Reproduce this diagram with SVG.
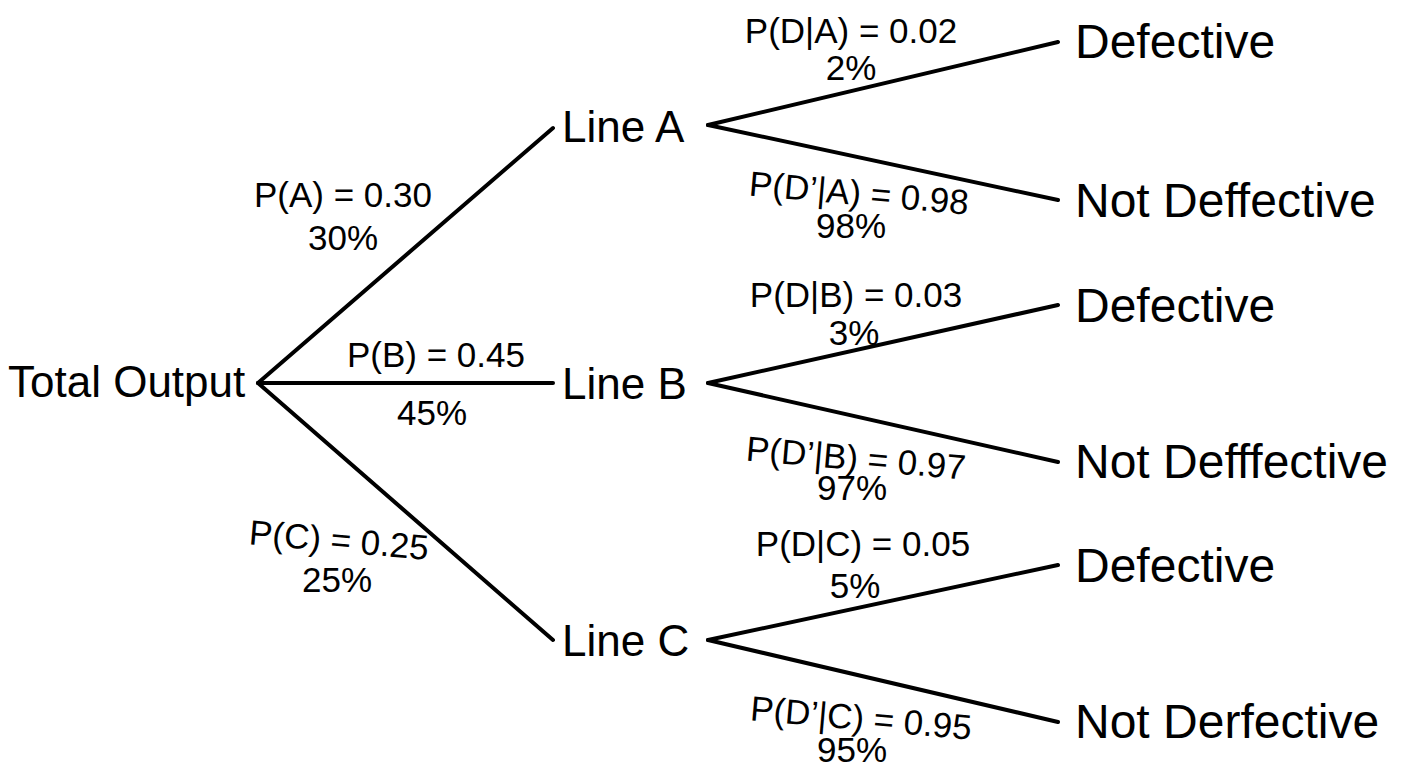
<svg xmlns="http://www.w3.org/2000/svg" width="1408" height="768" viewBox="0 0 1408 768">
<style>
text{font-family:"Liberation Sans",Arial,sans-serif;fill:#000}
.n{font-size:44px}
.r{font-size:48px}
.l{font-size:35px;text-anchor:middle}
line{stroke:#000;stroke-width:4;stroke-linecap:round}
</style>
<rect width="1408" height="768" fill="#fff"/>
<g id="connectors">
<line x1="258" y1="383" x2="553" y2="128"/>
<line x1="258" y1="383" x2="553" y2="383"/>
<line x1="258" y1="383" x2="553" y2="640"/>
<line x1="708" y1="125" x2="1058" y2="42"/>
<line x1="708" y1="125" x2="1058" y2="200"/>
<line x1="708" y1="383" x2="1058" y2="305"/>
<line x1="708" y1="383" x2="1058" y2="462"/>
<line x1="708" y1="640" x2="1058" y2="565"/>
<line x1="708" y1="640" x2="1058" y2="722"/>
</g>
<g id="labels">
<text class="l" x="343" y="207">P(A) = 0.30</text><text class="l" x="343" y="250">30%</text>
<text class="l" x="436" y="367">P(B) = 0.45</text><text class="l" x="432" y="425">45%</text>
<text class="l" x="338" y="552" transform="rotate(5 338 552)">P(C) = 0.25</text><text class="l" x="337" y="592">25%</text>
<text class="l" x="851" y="43">P(D|A) = 0.02</text><text class="l" x="851" y="80">2%</text>
<text class="l" x="858" y="205" transform="rotate(5 858 205)">P(D’|A) = 0.98</text><text class="l" x="851" y="238">98%</text>
<text class="l" x="856" y="307">P(D|B) = 0.03</text><text class="l" x="854" y="345">3%</text>
<text class="l" x="855" y="470" transform="rotate(5 855 470)">P(D’|B) = 0.97</text><text class="l" x="852" y="500">97%</text>
<text class="l" x="863" y="556">P(D|C) = 0.05</text><text class="l" x="855" y="598">5%</text>
<text class="l" x="860" y="730" transform="rotate(5 860 730)">P(D’|C) = 0.95</text><text class="l" x="852" y="762">95%</text>
</g>
<g id="total"><text class="n" x="8" y="397">Total Output</text></g>
<g id="lineA"><text class="n" x="562" y="142">Line A</text></g>
<g id="lineB"><text class="n" x="562" y="399">Line B</text></g>
<g id="lineC"><text class="n" x="562" y="656">Line C</text></g>
<g id="a1"><text class="r" x="1075" y="58">Defective</text></g>
<g id="a2"><text class="r" x="1075" y="217">Not Deffective</text></g>
<g id="b1"><text class="r" x="1075" y="322">Defective</text></g>
<g id="b2"><text class="r" x="1075" y="478">Not Defffective</text></g>
<g id="c1"><text class="r" x="1075" y="582">Defective</text></g>
<g id="c2"><text class="r" x="1075" y="738">Not Derfective</text></g>
</svg>
